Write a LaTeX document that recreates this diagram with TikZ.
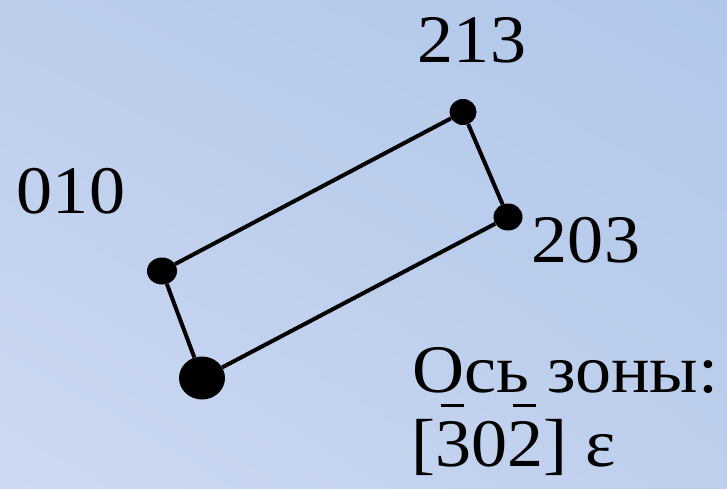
\documentclass[tikz,border=0pt]{standalone}
\usepackage{fontspec}
\setmainfont[FakeStretch=1.06]{Liberation Serif}
\usetikzlibrary{shapes.geometric,shadings}
\definecolor{bgul}{RGB}{188,205,236}
\definecolor{bgur}{RGB}{177,199,234}
\definecolor{bgll}{RGB}{204,217,241}
\definecolor{bglr}{RGB}{190,207,237}
\newcommand\ovb[1]{\leavevmode\rlap{\hspace{0.08em}\raisebox{0.87em}{\rule{0.34em}{0.035em}}}#1}
\tikzset{
  dotnode/.style={ellipse,fill=black,inner sep=0pt},
  lbl/.style={inner sep=0pt,font=\fontsize{68}{72}\selectfont},
  edge/.style={line width=4pt,black}
}
\begin{document}
\begin{tikzpicture}[x=1pt,y=-1pt]
\useasboundingbox (0,0) rectangle (727,488);
\shade[upper left=bgul,upper right=bgur,lower left=bgll,lower right=bglr]
  (0,0) rectangle (727,488);
\node[dotnode,minimum width=27pt,minimum height=26pt] (a) at (463,112) {};
\node[dotnode,minimum width=29pt,minimum height=27pt] (b) at (508,217) {};
\node[dotnode,minimum width=30pt,minimum height=27pt] (c) at (162,271) {};
\node[dotnode,minimum width=46pt,minimum height=43pt] (d) at (202,378) {};
\draw[edge] (a) -- (b);
\draw[edge] (b) -- (d);
\draw[edge] (d) -- (c);
\draw[edge] (c) -- (a);
\node[lbl,anchor=base] (la) at (472,62) {213};
\node[lbl,anchor=base] (lc) at (71,213) {010};
\node[lbl,anchor=base] (lb) at (586,262) {203};
\node[lbl,anchor=base west] (t1) at (412,392) {Ось зоны:};
\node[lbl,anchor=base west] (t2) at (411,466) {[\ovb{3}0\ovb{2}] ε};
\end{tikzpicture}
\end{document}
